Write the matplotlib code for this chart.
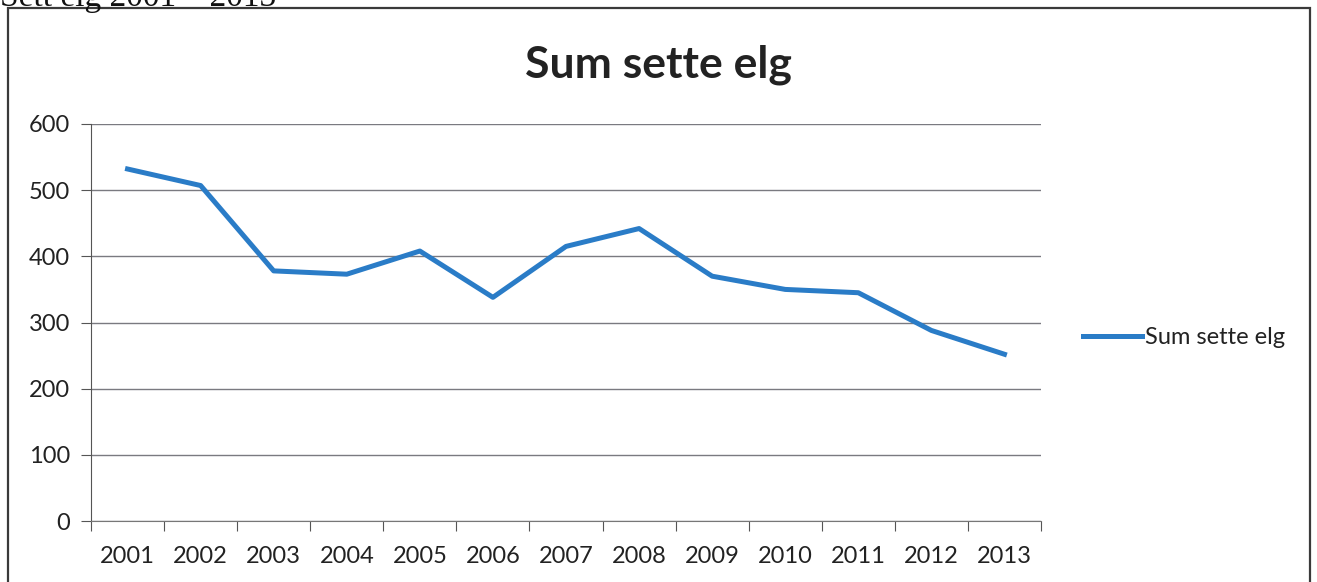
import matplotlib.pyplot as plt
from matplotlib.patches import Rectangle
from matplotlib.lines import Line2D
import numpy as np

years = ["2001", "2002", "2003", "2004", "2005", "2006", "2007",
         "2008", "2009", "2010", "2011", "2012", "2013"]
sum_sette_elg = [532, 507, 378, 373, 408, 338, 415, 442, 370, 350, 345, 288, 252]
yticks = [0, 100, 200, 300, 400, 500, 600]

W, H = 1317, 582
fig = plt.figure(figsize=(W / 100, H / 100), dpi=100)
plt.rcParams['font.family'] = ['Lato', 'DejaVu Sans']

# outer frame of the scanned chart (bottom edge runs off the page)
fig.patches.append(Rectangle((8 / W, -0.05), (1310 - 8) / W, 1 - 8 / H + 0.05,
                             transform=fig.transFigure, fill=False,
                             edgecolor="#3a3a3a", linewidth=1.6))

# caption above the chart, cut off at the top like in the scan
fig.text(0.0, 1 - 6 / H, "Sett elg 2001 \u2013 2013", family="Liberation Serif",
         fontsize=24, va="baseline", ha="left", color="#111111")

ax = fig.add_axes([91 / W, 1 - 521 / H, (1041 - 91) / W, (521 - 124) / H])
x = np.arange(len(years))
ax.plot(x, sum_sette_elg, color="#2a7cc7", linewidth=3.6, solid_joinstyle="round",
        label="Sum sette elg")

ax.set_xlim(-0.5, len(years) - 0.5)
ax.set_ylim(0, 600)
ax.set_yticks(yticks)
ax.set_yticklabels([str(v) for v in yticks])
ax.yaxis.grid(True, color="#7a7a80", linewidth=1.0)
ax.set_axisbelow(True)

# category axis: ticks on boundaries, labels centred
ax.set_xticks(np.arange(len(years) + 1) - 0.5)
ax.set_xticklabels([])
ax.set_xticks(x, minor=True)
ax.set_xticklabels(years, minor=True)
ax.tick_params(axis="x", which="major", length=7, direction="out", color="#555555")
ax.tick_params(axis="x", which="minor", length=0, pad=18, labelsize=17, labelcolor="#222222")
ax.tick_params(axis="y", length=7, direction="out", color="#555555", labelsize=17,
               labelcolor="#222222", pad=8)

for side in ("top", "right"):
    ax.spines[side].set_visible(False)
ax.spines["left"].set_color("#555555")
ax.spines["bottom"].set_color("#777777")

fig.text(658 / W, 1 - 65 / H, "Sum sette elg", ha="center", va="center",
         fontsize=32, fontweight="bold", color="#222222")

handle = Line2D([], [], color="#2a7cc7", linewidth=3.6)
fig.legend([handle], ["Sum sette elg"], loc="center left",
           bbox_to_anchor=(1062 / W, 1 - 338 / H), frameon=False, fontsize=17,
           handlelength=2.5, handletextpad=0.1, labelcolor="#222222")

fig.savefig("out.png", dpi=100)
